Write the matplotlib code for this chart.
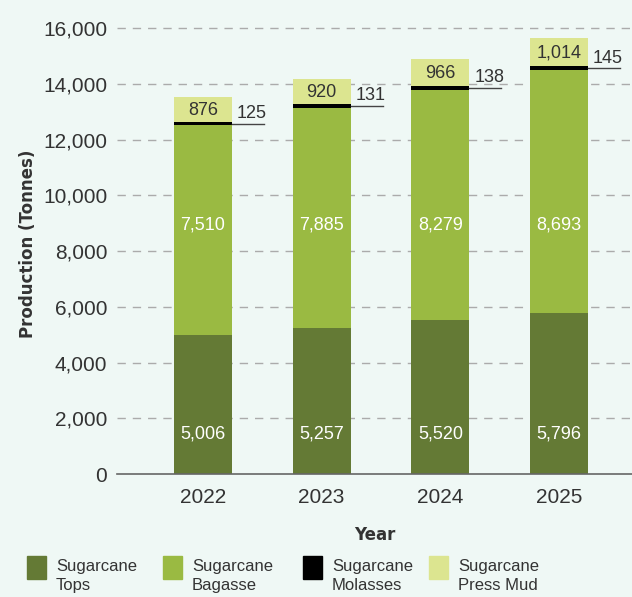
import matplotlib.pyplot as plt
from matplotlib.patches import Rectangle
import numpy as np

years = ['2022', '2023', '2024', '2025']
tops = [5006, 5257, 5520, 5796]
bagasse = [7510, 7885, 8279, 8693]
molasses = [125, 131, 138, 145]
press_mud = [876, 920, 966, 1014]
series_names = ['Sugarcane\nTops', 'Sugarcane\nBagasse', 'Sugarcane\nMolasses',
                'Sugarcane\nPress Mud']

c_tops = '#647a35'
c_bag = '#9aba42'
c_mol = '#000000'
c_mud = '#dce590'
bg = '#eff8f5'
txt = '#333333'
fnt = ['Liberation Sans', 'DejaVu Sans']

fig = plt.figure(figsize=(6.32, 5.97), dpi=100, facecolor=bg)
ax = fig.add_axes([0.185, 0.206, 0.815, 0.770], facecolor=bg)

x = np.arange(len(years))
w = 0.49
tops = np.array(tops)
bagasse = np.array(bagasse)
molasses = np.array(molasses)
press_mud = np.array(press_mud)

ax.bar(x, tops, w, color=c_tops, zorder=3)
ax.bar(x, bagasse, w, bottom=tops, color=c_bag, zorder=3)
ax.bar(x, molasses, w, bottom=tops + bagasse, color=c_mol, zorder=3)
ax.bar(x, press_mud, w, bottom=tops + bagasse + molasses, color=c_mud, zorder=3)

for i in range(len(years)):
    ax.text(x[i], 1450, f'{tops[i]:,}', color='white', ha='center', va='center',
            fontsize=13, family=fnt, zorder=4)
    ax.text(x[i], 8930, f'{bagasse[i]:,}', color='white', ha='center', va='center',
            fontsize=13, family=fnt, zorder=4)
    mud_mid = tops[i] + bagasse[i] + molasses[i] + press_mud[i] / 2
    ax.text(x[i], mud_mid - 40, f'{press_mud[i]:,}', color=txt, ha='center', va='center',
            fontsize=13, family=fnt, zorder=4)
    mol_y = tops[i] + bagasse[i] + molasses[i] / 2
    ax.plot([x[i] + w / 2, x[i] + w / 2 + 0.27], [mol_y, mol_y], color='#444444',
            lw=1.0, zorder=4)
    ax.text(x[i] + w / 2 + 0.04, mol_y + 60, f'{molasses[i]:,}', color=txt,
            ha='left', va='bottom', fontsize=13, family=fnt, zorder=4)

ax.set_xlim(-0.725, 3.615)
ax.set_ylim(0, 16500)
ax.set_yticks(np.arange(0, 16001, 2000))
ax.set_yticklabels([f'{v:,}' for v in range(0, 16001, 2000)], family=fnt,
                   fontsize=15, color=txt)
ax.set_xticks(x)
ax.set_xticklabels(years, family=fnt, fontsize=15, color=txt)
ax.tick_params(axis='y', length=0, pad=7)
ax.tick_params(axis='x', length=0, pad=10)

for v in range(2000, 16001, 2000):
    ax.axhline(v, color='#ababab', lw=1.0, ls=(0, (6, 5)), zorder=1)
ax.axhline(0, color='#666666', lw=1.2, zorder=5, clip_on=False)

for s in ax.spines.values():
    s.set_visible(False)

ax.set_ylabel('Production (Tonnes)', fontsize=12, fontweight='bold', color=txt,
              labelpad=4)
ax.set_xlabel('Year', fontsize=12, fontweight='bold', color=txt, labelpad=14)

# legend drawn by hand, four columns
leg_colors = [c_tops, c_bag, c_mol, c_mud]
leg_x = [27, 163, 303, 429]
W, H = 632, 597
for lx, col, name in zip(leg_x, leg_colors, series_names):
    fig.patches.append(Rectangle((lx / W, 1 - 579 / H), 19 / W, 23 / H,
                                 transform=fig.transFigure, color=col))
    fig.text((lx + 29) / W, 1 - 559 / H, name, ha='left', va='top', fontsize=12,
             family=fnt, color=txt, linespacing=1.3)

fig.savefig('out.png', dpi=100, facecolor=bg)
